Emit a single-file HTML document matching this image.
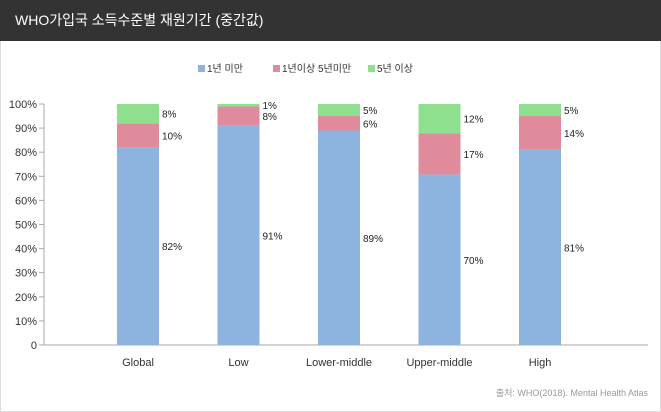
<!DOCTYPE html>
<html><head><meta charset="utf-8"><style>
body{margin:0;width:661px;height:412px;background:#fff;font-family:"Liberation Sans","Noto Sans CJK KR",sans-serif;overflow:hidden}
#wrap{position:absolute;left:0;top:0;width:659px;height:410px;border:1px solid #ddd}
#title{position:absolute;left:0;top:0;width:661px;height:41px;background:#333;color:#fff;font-size:14px;line-height:41px;text-indent:15px}
svg{position:absolute;left:0;top:0}
text{font-family:"Liberation Sans","Noto Sans CJK KR",sans-serif}
</style></head><body>
<div id="wrap"></div>
<div id="title">WHO가입국 소득수준별 재원기간 (중간값)</div>
<svg id="chart" width="661" height="412"></svg>
<script>
const categories=["Global","Low","Lower-middle","Upper-middle","High"];
const under1=[82,91,89,70,81];
const from1to5=[10,8,6,17,14];
const over5=[8,1,5,12,5];
const yTicks=[0,10,20,30,40,50,60,70,80,90,100];
const seriesNames=["1년 미만","1년이상 5년미만","5년 이상"];
const colors=["#8db3df","#e08b9b","#8ee08e"];
const NS="http://www.w3.org/2000/svg";
const svg=document.getElementById('chart');
const y0=345,y1=104,xL=44;
const y=v=>y0-(y0-y1)*v/100;
const xc=i=>138+i*100.5;
const bw=42;
function mk(t,a,txt){const e=document.createElementNS(NS,t);for(const k in a)e.setAttribute(k,a[k]);if(txt!==undefined)e.textContent=txt;svg.appendChild(e);return e;}
let ax=mk('line',{x1:xL,y1:y0,x2:648,y2:y0,stroke:'#aaa'});

let ay=mk('line',{x1:xL,y1:y1,x2:xL,y2:y0,stroke:'#aaa'});

yTicks.forEach(t=>{
 let tk=mk('line',{x1:xL-5,y1:y(t),x2:xL,y2:y(t),stroke:'#aaa'});
 
 let l=mk('text',{x:37,y:y(t)+4,'text-anchor':'end','font-size':11,fill:'#333'},t===0?'0':t+'%');
 
});
categories.forEach((c,i)=>{
 const vals=[under1[i],from1to5[i],over5[i]];
 const tot=vals.reduce((a,b)=>a+b,0);
 let acc=0;
 vals.forEach((v,s)=>{
  const a=acc/tot*100,b=(acc+v)/tot*100;acc+=v;
  let r=mk('rect',{x:xc(i)-bw/2,y:y(b),width:bw,height:y(a)-y(b),fill:colors[s]});
  
  let l=mk('text',{x:xc(i)+bw/2+3,y:(y(a)+y(b))/2+4,'font-size':10,fill:'#222'},v+'%');
  
 });
 let xl=mk('text',{x:xc(i),y:366,'text-anchor':'middle','font-size':11,fill:'#333'},c);
 
});
const lx=[198,273,368];
seriesNames.forEach((n,s)=>{
 let r=mk('rect',{x:lx[s],y:65,width:7,height:7,fill:colors[s]});
 
 let t=mk('text',{x:lx[s]+9,y:72,'font-size':10,fill:'#333'},n);
 
});
let src=mk('text',{x:648,y:396,'text-anchor':'end','font-size':9,fill:'#999'},'출처: WHO(2018). Mental Health Atlas');

</script>
</body></html>
